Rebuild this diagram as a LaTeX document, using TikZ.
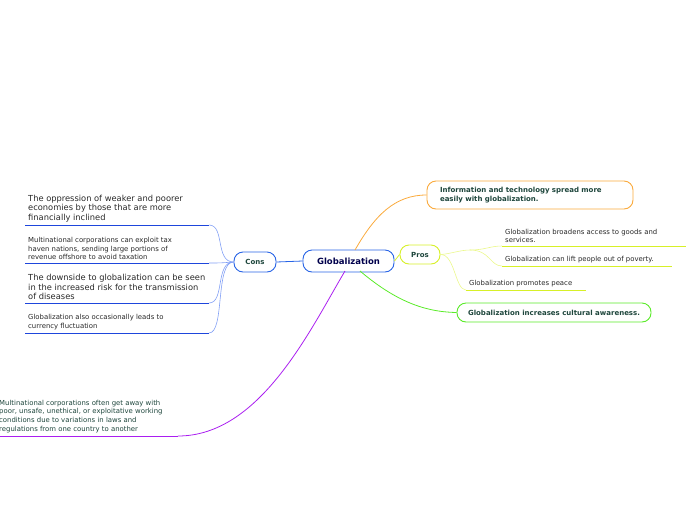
\documentclass[tikz,border=0pt]{standalone}
\usepackage{fontspec}
\setmainfont{DejaVu Sans}
\definecolor{cb}{RGB}{40,100,230}
\definecolor{cbl}{RGB}{130,160,245}
\definecolor{ul}{RGB}{30,70,220}
\definecolor{py}{RGB}{215,240,40}
\definecolor{pyl}{RGB}{235,248,140}
\definecolor{og}{RGB}{250,170,60}
\definecolor{gr}{RGB}{90,235,40}
\definecolor{pu}{RGB}{170,30,240}
\definecolor{tg}{RGB}{30,70,60}
\definecolor{tx}{RGB}{40,40,40}
\begin{document}
\begin{tikzpicture}[x=1pt,y=-1pt,
  box/.style={draw,rounded corners=9pt,line width=0.9pt,fill=white,font=\fontsize{7}{9}\selectfont\bfseries,text=tg,inner sep=0pt},
  leaf/.style={anchor=south west,align=left,inner sep=1pt,text=tx},
  sm/.style={font=\fontsize{6.9}{8.7}\selectfont},
  lg/.style={font=\fontsize{8.3}{9.5}\selectfont}]
\useasboundingbox (0,0) rectangle (696,520);
% central
\node[box,draw=cb,minimum width=91pt,minimum height=22pt,font=\fontsize{8.5}{10}\selectfont\bfseries,text=blue!30!black] (g) at (348.5,261) {Globalization};
\node[box,draw=cb,minimum width=42pt,minimum height=20pt] (cons) at (255,262) {Cons};
\node[box,draw=py,minimum width=40pt,minimum height=19pt] (pros) at (420,254.5) {Pros};
\node[box,draw=og,minimum width=206pt,minimum height=28pt,align=left,text width=180pt] (info) at (530,195) {Information and technology spread more\\easily with globalization.};
\node[box,draw=gr,minimum width=194pt,minimum height=19pt] (cult) at (554,312.5) {Globalization increases cultural awareness.};
% connectors from center
\draw[cb,line width=0.8pt] (g.west) -- (cons.east);
\draw[py,line width=0.8pt] (g.east) -- (pros.west);
\draw[og,line width=0.8pt] (355,250) .. controls (375,215) and (395,195) .. (info.west);
\draw[gr,line width=0.8pt] (360,271) .. controls (400,305) and (430,312) .. (cult.west);
% cons leaves
\coordinate (c1a) at (25,225); \coordinate (c1b) at (209,225);
\coordinate (c2a) at (25,263); \coordinate (c2b) at (209,263);
\coordinate (c3a) at (25,303); \coordinate (c3b) at (209,303);
\coordinate (c4a) at (25,333); \coordinate (c4b) at (209,333);
\foreach \a/\b in {c1a/c1b,c2a/c2b,c3a/c3b,c4a/c4b}{
  \draw[ul,line width=1pt] (\a) -- (\b);}
\draw[cbl,line width=0.6pt] (c1b) .. controls (225,225) and (215,262) .. (cons.west);
\draw[cbl,line width=0.6pt] (c2b) .. controls (220,263) .. (cons.west);
\draw[cbl,line width=0.6pt] (c3b) .. controls (225,303) and (215,262) .. (cons.west);
\draw[cbl,line width=0.6pt] (c4b) .. controls (225,333) and (215,262) .. (cons.west);
\node[leaf,lg] (t1) at (27,223) {The oppression of weaker and poorer\\economies by those that are more\\financially inclined};
\node[leaf,sm] (t2) at (27,261) {Multinational corporations can exploit tax\\haven nations, sending large portions of\\revenue offshore to avoid taxation};
\node[leaf,lg] (t3) at (27,301) {The downside to globalization can be seen\\in the increased risk for the transmission\\of diseases};
\node[leaf,sm] (t4) at (27,331) {Globalization also occasionally leads to\\currency fluctuation};
% purple leaf
\coordinate (pa) at (0,436); \coordinate (pb) at (178,436);
\draw[pu,line width=1pt] (pa) -- (pb);
\draw[pu,line width=0.8pt] (pb) .. controls (260,436) and (310,330) .. (345,271);
\node[leaf,sm,text=tg] (t5) at (-2,434) {Multinational corporations often get away with\\poor, unsafe, unethical, or exploitative working\\conditions due to variations in laws and\\regulations from one country to another};
% pros leaves
\coordinate (p1a) at (502,246); \coordinate (p1b) at (686,246);
\coordinate (p2a) at (502,266); \coordinate (p2b) at (672,266);
\coordinate (p3a) at (466,290); \coordinate (p3b) at (586,290);
\draw[py,line width=1pt] (p1a) -- (p1b);
\draw[py,line width=1pt] (p2a) -- (p2b);
\draw[py,line width=1pt] (p3a) -- (p3b);
\draw[pyl,line width=0.6pt] (pros.east) .. controls (450,254) and (460,250) .. (470,250) .. controls (485,250) and (490,246) .. (p1a);
\draw[pyl,line width=0.6pt] (470,250) .. controls (490,250) and (490,266) .. (p2a);
\draw[pyl,line width=0.6pt] (pros.east) .. controls (455,254) and (455,290) .. (p3a);
\node[leaf,sm] (t6) at (504,244) {Globalization broadens access to goods and\\services.};
\node[leaf,sm] (t7) at (504,264) {Globalization can lift people out of poverty.};
\node[leaf,sm] (t8) at (468,288) {Globalization promotes peace};
\end{tikzpicture}
\end{document}
